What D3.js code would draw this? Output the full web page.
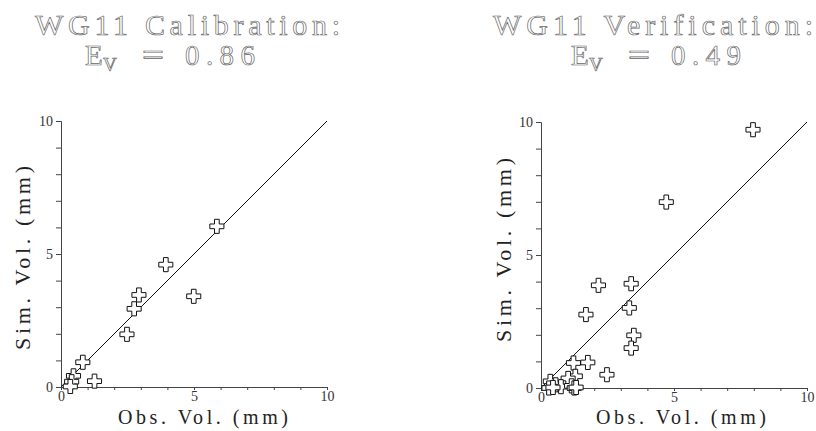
<!DOCTYPE html>
<html>
<head>
<meta charset="utf-8">
<script src="https://d3js.org/d3.v7.min.js"></script>
<style>
  body { margin: 0; background: #fff; }
  text { font-family: "Liberation Serif", "DejaVu Serif", serif; }
</style>
</head>
<body>
<script>
// values (mm)
const calibObs = [5.86, 3.94, 4.99, 2.93, 2.75, 2.48, 0.82, 1.26, 0.47, 0.40, 0.35];
const calibSim = [6.04, 4.60, 3.41, 3.46, 2.94, 1.98, 0.93, 0.22, 0.42, 0.20, 0.02];

const verifObs = [7.97, 4.71, 2.16, 3.39, 1.69, 3.32, 3.49, 3.39, 1.76, 1.22, 2.48, 1.29, 1.02, 0.35, 0.55, 0.75, 0.30, 1.15, 1.25, 1.32, 0.45];
const verifSim = [9.71, 6.99, 3.86, 3.92, 2.76, 3.01, 1.98, 1.50, 0.96, 0.94, 0.50, 0.44, 0.36, 0.25, 0.12, 0.05, 0.00, 0.08, 0.00, 0.02, 0.02];

const titles = ["WG11 Calibration:", "WG11 Verification:"];
const evValues = ["0.86", "0.49"];
const tickValues = [0, 1, 2, 3, 4, 5, 6, 7, 8, 9, 10];
const labelTicks = [0, 5, 10];
const oneToOne = [0, 10];

const width = 816, height = 431;

let svg = d3.select("body").append("svg")
    .attr("width", width)
    .attr("height", height);

// one panel per run
let panels = [
    {obs: calibObs, sim: calibSim, title: titles[0], ev: evValues[0],
     x0: 61, x1: 327, y0: 387, y1: 121,
     titleX: 35, titleW: 305, evX: 85, xLabX: 118, yLabX: 22, yLabY: 258},
    {obs: verifObs, sim: verifSim, title: titles[1], ev: evValues[1],
     x0: 541, x1: 807, y0: 388, y1: 122,
     titleX: 493, titleW: 320, evX: 571, xLabX: 596, yLabX: 503, yLabY: 250}
];

// hollow, plotter-like lettering for the headings
function hollow(sel) {
    return sel.style("fill", "#fff")
        .style("stroke", "#666")
        .style("stroke-width", 0.7);
}

function drawPanel(p) {
    let g = svg.append("g");

    let x = d3.scaleLinear().domain([0, 10]).range([p.x0, p.x1]);
    let y = d3.scaleLinear().domain([0, 10]).range([p.y0, p.y1]);

    g.append("text")
        .attr("x", p.titleX)
        .attr("y", 35)
        .attr("textLength", p.titleW)
        .attr("lengthAdjust", "spacing")
        .style("font-size", "30px")
        .call(hollow)
        .text(p.title);

    // E_V = value
    g.append("text").attr("x", p.evX).attr("y", 65)
        .style("font-size", "29px").call(hollow).text("E");
    g.append("text").attr("x", p.evX + 18).attr("y", 71)
        .style("font-size", "19px").call(hollow).text("V");
    g.append("text").attr("x", p.evX + 57).attr("y", 65)
        .attr("textLength", 22).attr("lengthAdjust", "spacingAndGlyphs")
        .style("font-size", "29px").call(hollow).text("=");
    g.append("text").attr("x", p.evX + 100).attr("y", 65)
        .attr("textLength", 70).attr("lengthAdjust", "spacing")
        .style("font-size", "29px").call(hollow).text(p.ev);

    // axes
    let xAxis = d3.axisBottom(x)
        .tickValues(tickValues)
        .tickSize(3)
        .tickPadding(1)
        .tickFormat(d => labelTicks.includes(d) ? d : "");
    let yAxis = d3.axisLeft(y)
        .tickValues(tickValues)
        .tickSize(5)
        .tickPadding(3)
        .tickFormat(d => labelTicks.includes(d) ? d : "");

    let gx = g.append("g")
        .attr("transform", `translate(0,${p.y0})`)
        .call(xAxis);
    let gy = g.append("g")
        .attr("transform", `translate(${p.x0},0)`)
        .call(yAxis);

    [gx, gy].forEach(a => {
        a.select(".domain").attr("stroke", "#444").attr("stroke-width", 1);
        a.selectAll(".tick line").attr("stroke", "#444");
        a.selectAll(".tick text")
            .style("font-family", '"Liberation Serif", serif')
            .style("font-size", "14px")
            .attr("fill", "#333");
    });

    // axis titles
    g.append("text")
        .attr("x", p.xLabX)
        .attr("y", 424)
        .attr("textLength", 170)
        .attr("lengthAdjust", "spacing")
        .style("font-size", "20px")
        .attr("fill", "#222")
        .text("Obs. Vol. (mm)");

    g.append("text")
        .attr("transform", `translate(${p.yLabX},${p.yLabY}) rotate(-90)`)
        .attr("x", -92)
        .attr("dy", "0.35em")
        .attr("textLength", 184)
        .attr("lengthAdjust", "spacing")
        .style("font-size", "22px")
        .attr("fill", "#222")
        .text("Sim. Vol. (mm)");

    // 1:1 line
    g.append("path")
        .datum(oneToOne)
        .attr("d", d3.line().x(d => x(d)).y(d => y(d)))
        .attr("fill", "none")
        .attr("stroke", "#111")
        .attr("stroke-width", 1);

    // hollow cross markers
    let pts = p.obs.map((o, i) => ({obs: o, sim: p.sim[i]}));
    g.selectAll("path.pt")
        .data(pts)
        .join("path")
            .attr("class", "pt")
            .attr("d", d3.symbol(d3.symbolCross).size(110))
            .attr("transform", d => `translate(${x(d.obs)},${y(d.sim)})`)
            .attr("fill", "#fff")
            .attr("stroke", "#111")
            .attr("stroke-width", 1);
}

panels.forEach(drawPanel);
</script>
</body>
</html>
